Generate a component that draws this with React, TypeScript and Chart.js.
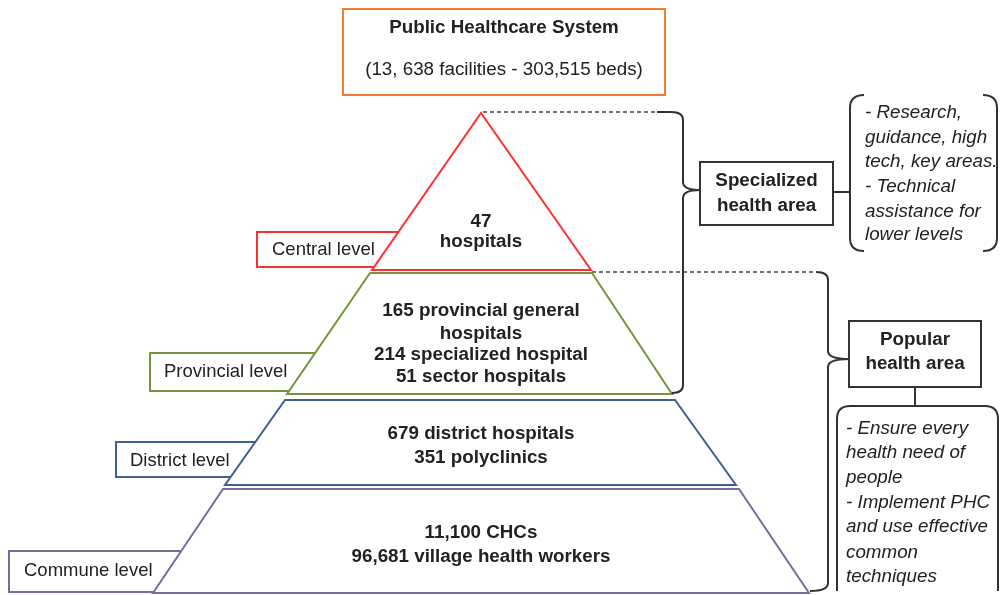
import React, { useEffect, useRef } from "react";
import { Chart, registerables } from "chart.js";

Chart.register(...registerables);

// ---------- content ----------
const systemTitle = "Public Healthcare System";
const systemSubtitle = "(13, 638 facilities - 303,515 beds)";
const levelNames = ["Central level", "Provincial level", "District level", "Commune level"];
const levelLines = [
  ["47", "hospitals"],
  ["165 provincial general", "hospitals", "214 specialized hospital", "51 sector hospitals"],
  ["679 district hospitals", "351 polyclinics"],
  ["11,100 CHCs", "96,681 village health workers"],
];
const areaNames = [
  ["Specialized", "health area"],
  ["Popular", "health area"],
];
const areaNotes = [
  ["- Research,", "guidance, high", "tech, key areas.", "- Technical", "assistance for", "lower levels"],
  ["- Ensure every", "health need of", "people", "- Implement PHC", "and use effective", "common", "techniques"],
];

// ---------- layout (diagram coordinates, x 0..1000, y 0..595 downwards) ----------
const tierShapes = [
  [[481, 113], [591, 270], [372, 270]],
  [[370, 273], [592, 273], [672, 394], [287, 394]],
  [[285, 400], [675, 400], [736, 485], [225, 485]],
  [[223, 489], [739, 489], [809, 593], [153, 593]],
];
const tierColors = ["#FF3030", "#77933C", "#3F6190", "#7D6A9C"];
const tierTextY = [
  [222, 242],
  [311, 334, 355, 377],
  [434, 458],
  [533, 557],
];
const labelBoxes = [
  [257, 232, 405, 267],
  [150, 353, 320, 391],
  [116, 442, 268, 477],
  [9, 551, 190, 592],
];
const labelTextPos = [
  [272, 250],
  [164, 372],
  [130, 461],
  [24, 571],
];
const systemBox = [343, 9, 665, 95];
const systemTextY = [28, 70];
const areaBoxes = [
  [700, 162, 833, 225],
  [849, 321, 981, 387],
];
const areaTextY = [
  [181, 206],
  [340, 364],
];
const dashedLines = [
  [[483, 112], [657, 112]],
  [[592, 272], [816, 272]],
];
const connectors = [
  [[833, 192], [850, 192]],
  [[915, 387], [915, 406]],
];
// brace: xStart, yTop, xVertical, tipX, tipY, yBottom, xEnd
const braces = [
  [657, 112, 683, 700, 190, 393, 672],
  [816, 272, 828, 849, 359, 591, 810],
];
// note frames: x1, y1, x2, y2, closedTop
const noteFrames = [
  [850, 95, 997, 251, false],
  [837, 406, 998, 593, true],
];
const noteTextX = [865, 846];
const noteTextY = [
  [113, 138, 162, 187, 212, 235],
  [429, 453, 478, 503, 527, 553, 577],
];

const FONT = '"Liberation Sans", Arial, sans-serif';
const INK = "#222222";
const LINE = "#333333";

type Pt = number[];

function closed(pts: Pt[]): Pt[] {
  return [...pts, pts[0], pts[1]];
}
function rectPts(r: number[]): Pt[] {
  const [x1, y1, x2, y2] = r;
  return [[x1, y1], [x2, y1], [x2, y2], [x1, y2]];
}
function ds(pts: Pt[], color: string, width: number, order: number, fillColor?: string, dash?: number[]) {
  return {
    data: pts.map(([a, b]) => ({ x: a, y: b })),
    showLine: true,
    borderColor: color,
    borderWidth: width,
    backgroundColor: fillColor || "rgba(0,0,0,0)",
    fill: fillColor ? "shape" : false,
    pointRadius: 0,
    pointHoverRadius: 0,
    tension: 0,
    borderDash: dash || [],
    borderJoinStyle: "miter",
    order,
  };
}

const diagramPlugin = {
  id: "diagramOverlay",
  afterDatasetsDraw(chart: any) {
    const { ctx } = chart;
    const xs = chart.scales.x;
    const ys = chart.scales.y;
    const px = (v: number) => xs.getPixelForValue(v);
    const py = (v: number) => ys.getPixelForValue(v);
    ctx.save();

    // braces
    ctx.strokeStyle = LINE;
    ctx.lineWidth = 2;
    ctx.lineJoin = "round";
    braces.forEach(([xs0, yt, xv, tx, ty, yb, xe]) => {
      const r = 8;
      ctx.beginPath();
      ctx.moveTo(px(xs0), py(yt));
      ctx.lineTo(px(xv - r - 4), py(yt));
      ctx.quadraticCurveTo(px(xv), py(yt), px(xv), py(yt + r));
      ctx.lineTo(px(xv), py(ty - r));
      ctx.quadraticCurveTo(px(xv), py(ty), px(tx), py(ty));
      ctx.moveTo(px(tx), py(ty));
      ctx.quadraticCurveTo(px(xv), py(ty), px(xv), py(ty + r));
      ctx.lineTo(px(xv), py(yb - r));
      ctx.quadraticCurveTo(px(xv), py(yb), px(xe), py(yb));
      ctx.stroke();
    });

    // note frames
    noteFrames.forEach(([x1, y1, x2, y2, top]) => {
      const r = 13;
      const hook = 14;
      ctx.beginPath();
      if (top) {
        ctx.moveTo(px(x1), py(y2 - 2));
        ctx.lineTo(px(x1), py(y1 + r));
        ctx.quadraticCurveTo(px(x1), py(y1), px(x1 + r), py(y1));
        ctx.lineTo(px(x2 - r), py(y1));
        ctx.quadraticCurveTo(px(x2), py(y1), px(x2), py(y1 + r));
        ctx.lineTo(px(x2), py(y2 - 2));
      } else {
        ctx.moveTo(px(x1 + hook), py(y1));
        ctx.quadraticCurveTo(px(x1), py(y1), px(x1), py(y1 + r));
        ctx.lineTo(px(x1), py(y2 - r));
        ctx.quadraticCurveTo(px(x1), py(y2), px(x1 + hook), py(y2));
        ctx.moveTo(px(x2 - hook), py(y1));
        ctx.quadraticCurveTo(px(x2), py(y1), px(x2), py(y1 + r));
        ctx.lineTo(px(x2), py(y2 - r));
        ctx.quadraticCurveTo(px(x2), py(y2), px(x2 - hook), py(y2));
      }
      ctx.stroke();
    });

    ctx.fillStyle = INK;
    ctx.textBaseline = "middle";

    // system box text
    ctx.textAlign = "center";
    const sx = px((systemBox[0] + systemBox[2]) / 2);
    ctx.font = `bold 18.8px ${FONT}`;
    ctx.fillText(systemTitle, sx, py(systemTextY[0]));
    ctx.font = `18.8px ${FONT}`;
    ctx.fillText(systemSubtitle, sx, py(systemTextY[1]));

    // tier texts
    ctx.font = `bold 18.8px ${FONT}`;
    levelLines.forEach((lines, i) => {
      const cx = px(481);
      lines.forEach((t, j) => ctx.fillText(t, cx, py(tierTextY[i][j])));
    });

    // area box texts
    areaNames.forEach((lines, i) => {
      const b = areaBoxes[i];
      const cx = px((b[0] + b[2]) / 2);
      lines.forEach((t, j) => ctx.fillText(t, cx, py(areaTextY[i][j])));
    });

    // level labels
    ctx.textAlign = "left";
    ctx.font = `18.5px ${FONT}`;
    levelNames.forEach((t, i) => ctx.fillText(t, px(labelTextPos[i][0]), py(labelTextPos[i][1])));

    // notes
    ctx.font = `italic 18.8px ${FONT}`;
    areaNotes.forEach((lines, i) => {
      lines.forEach((t, j) => ctx.fillText(t, px(noteTextX[i]), py(noteTextY[i][j])));
    });

    ctx.restore();
  },
};

export default function App() {
  const ref = useRef<HTMLCanvasElement | null>(null);

  useEffect(() => {
    document.body.style.margin = "0";
    const canvas = ref.current;
    if (!canvas) return;

    const list: any[] = [];
    dashedLines.forEach((l) => list.push(ds(l, "#444444", 1.5, 0, undefined, [4, 3])));
    labelBoxes.forEach((b, i) => list.push(ds(closed(rectPts(b)), tierColors[i], 2, 0, "#ffffff")));
    tierShapes.forEach((s, i) => list.push(ds(closed(s), tierColors[i], 2, 0, "#ffffff")));
    list.push(ds(closed(rectPts(systemBox)), "#ED7D31", 2, 0, "#ffffff"));
    areaBoxes.forEach((b) => list.push(ds(closed(rectPts(b)), LINE, 2, 0, "#ffffff")));
    connectors.forEach((l) => list.push(ds(l, LINE, 2, 0)));
    const n = list.length;
    list.forEach((d, i) => (d.order = n - i));

    const chart = new Chart(canvas, {
      type: "scatter",
      data: { datasets: list },
      options: {
        animation: false,
        responsive: false,
        maintainAspectRatio: false,
        devicePixelRatio: 1,
        events: [],
        layout: { padding: 0 },
        plugins: {
          legend: { display: false },
          tooltip: { enabled: false },
          filler: { drawTime: "beforeDatasetDraw" },
        },
        scales: {
          x: { type: "linear", min: 0, max: 1000, display: false },
          y: { type: "linear", min: 0, max: 595, reverse: true, display: false },
        },
      } as any,
      plugins: [diagramPlugin],
    });
    return () => chart.destroy();
  }, []);

  return (
    <div style={{ position: "absolute", left: 0, top: 0, width: 1000, height: 595, background: "#ffffff" }}>
      <canvas ref={ref} width={1000} height={595} style={{ display: "block" }} />
    </div>
  );
}
